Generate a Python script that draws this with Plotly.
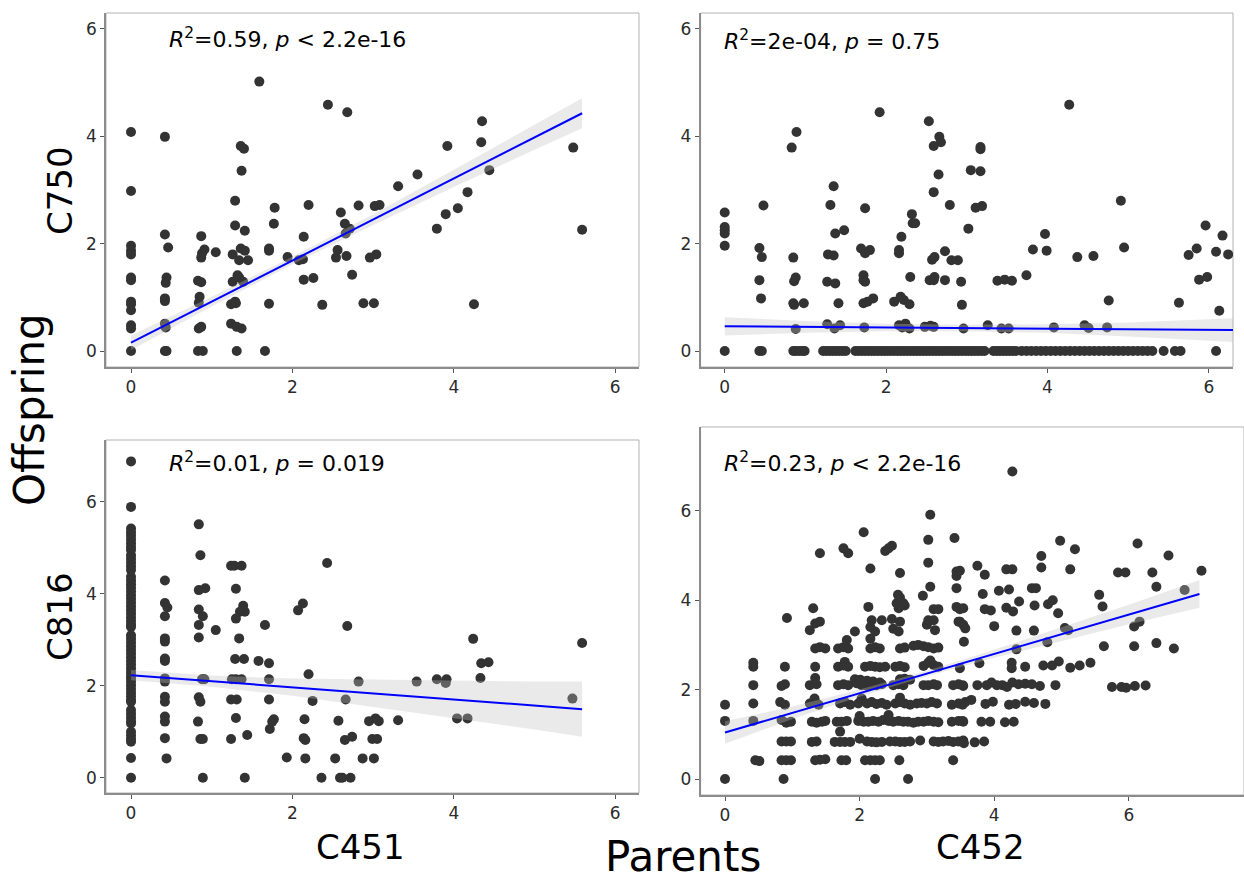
import plotly.graph_objects as go

W, H = 1244, 887

# ---------------- DATA ----------------
# Panel 1: Parents C451 (x) vs Offspring C750 (y)
c451_c750 = [
    (0, 4.08), (0.42, 3.99), (1.59, 5.02), (2.44, 4.59), (2.68, 4.45), (4.35, 4.28), (3.92, 3.82), (4.34, 3.89),
    (5.48, 3.79), (1.36, 3.82), (1.40, 3.77), (1.37, 3.36), (4.44, 3.37), (3.55, 3.29), (3.31, 3.07), (0, 2.98),
    (1.29, 2.80), (4.17, 2.96), (4.05, 2.66), (3.90, 2.55), (3.79, 2.28), (5.59, 2.26), (1.78, 2.67), (2.20, 2.72),
    (2.60, 2.58), (2.82, 2.71), (3.02, 2.70), (3.08, 2.72), (1.77, 2.37), (1.29, 2.34), (1.41, 2.24), (2.65, 2.37),
    (2.66, 2.19), (2.71, 2.28), (2.14, 2.13), (0.42, 2.17), (0.87, 2.14), (0, 1.96), (0, 1.87), (0, 1.80),
    (0.46, 1.93), (0.91, 1.89), (0.88, 1.82), (0.87, 1.74), (1.05, 1.84), (1.26, 1.80), (1.36, 1.91), (1.41, 1.87),
    (1.34, 1.69), (1.45, 1.69), (1.71, 1.91), (1.71, 1.87), (1.94, 1.75), (2.08, 1.69), (2.13, 1.71), (2.56, 1.88),
    (2.54, 1.74), (2.67, 1.77), (2.96, 1.74), (3.04, 1.80), (0, 1.37), (0, 1.32), (0.44, 1.37), (0.43, 1.27),
    (0.83, 1.31), (0.87, 1.28), (1.26, 1.29), (1.32, 1.41), (1.34, 1.37), (1.39, 1.29), (2.14, 1.33), (2.26, 1.36),
    (2.74, 1.42), (0, 0.92), (0, 0.87), (0, 0.76), (0.42, 0.98), (0.42, 0.93), (0.85, 1.01), (0.84, 0.90),
    (1.24, 0.87), (1.29, 0.92), (1.30, 0.89), (1.71, 0.88), (2.37, 0.86), (2.88, 0.89), (3.01, 0.89), (4.25, 0.87),
    (0, 0.48), (0, 0.42), (0.42, 0.51), (0.43, 0.44), (0.84, 0.42), (0.87, 0.45), (1.24, 0.51), (1.31, 0.45),
    (1.37, 0.42), (0, 0), (0.42, 0), (0.44, 0), (0.83, 0), (0.89, 0), (1.31, 0), (1.66, 0),
]
fit1_x = [0, 5.59]
fit1_y = [0.155, 4.43]
band1_x = [0, 1, 2, 3, 4, 5, 5.59]
band1_hi = [0.29, 1.01, 1.755, 2.55, 3.375, 4.21, 4.71]
band1_lo = [0.02, 0.83, 1.615, 2.35, 3.055, 3.75, 4.15]

# Panel 2: Parents C452 (x) vs Offspring C750 (y)
c452_c750 = [
    (0, 2.58), (0, 2.31), (0, 2.25), (0, 2.19), (0, 1.96), (0.48, 2.71), (0.43, 1.92), (0.46, 1.75), (0.43, 1.32),
    (0.45, 0.98), (0.83, 3.79), (0.89, 4.08), (0.85, 1.74), (0.88, 1.37), (0.86, 1.30), (0.85, 0.89), (0.98, 0.89),
    (0.86, 0.86), (0.88, 0.41), (1.35, 3.07), (1.31, 2.72), (1.37, 2.19), (1.48, 2.25), (1.28, 1.80), (1.35, 1.78),
    (1.27, 1.29), (1.37, 1.26), (1.41, 0.89), (1.27, 0.50), (1.36, 0.42), (1.43, 0.48), (1.92, 4.45), (1.74, 2.66),
    (1.69, 1.91), (1.74, 1.82), (1.80, 1.88), (1.72, 1.41), (1.72, 1.32), (1.74, 1.29), (1.72, 0.89), (1.77, 0.92),
    (1.84, 0.98), (1.73, 0.44), (2.19, 2.13), (2.32, 2.55), (2.33, 2.38), (2.36, 2.38), (2.16, 1.82), (2.16, 1.88),
    (2.30, 1.38), (2.10, 0.92), (2.18, 1.01), (2.22, 0.95), (2.29, 0.87), (2.16, 0.48), (2.24, 0.51), (2.29, 0.42),
    (2.20, 0.44), (2.53, 4.28), (2.66, 3.99), (2.68, 3.89), (2.59, 3.82), (2.65, 3.29), (2.59, 2.96), (2.79, 2.72),
    (3.02, 2.28), (2.73, 1.86), (2.57, 1.70), (2.60, 1.75), (2.81, 1.69), (2.89, 1.69), (2.59, 1.32), (2.73, 1.32),
    (2.54, 1.32), (2.60, 1.38), (2.93, 1.29), (2.94, 0.86), (2.48, 0.45), (2.59, 0.45), (2.55, 0.47), (2.96, 0.42),
    (3.05, 3.37), (3.17, 3.80), (3.17, 3.76), (3.17, 3.35), (3.11, 2.67), (3.19, 2.70), (3.26, 0.48), (3.38, 1.31),
    (3.47, 1.33), (3.56, 1.31), (3.43, 0.42), (3.52, 0.42), (3.74, 1.41), (3.82, 1.89), (3.97, 2.18), (3.99, 1.87),
    (4.08, 0.44), (4.27, 4.59), (4.37, 1.75), (4.57, 1.77), (4.46, 0.48), (4.51, 0.43), (4.91, 2.80), (4.95, 1.93),
    (4.76, 0.94), (4.74, 0.44), (5.63, 0.90), (5.75, 1.79), (5.85, 1.91), (5.96, 2.34), (5.88, 1.33), (5.98, 1.38),
    (6.17, 2.15), (6.09, 1.85), (6.24, 1.80), (6.13, 0.75),
]
# Parents C452 values whose offspring C750 value is 0
c452_zero_x = [
    0, 0.43, 0.46, 0.85, 0.88, 0.92, 0.96, 0.99, 1.22, 1.26, 1.30, 1.34, 1.38, 1.42, 1.46, 1.50,
    1.62, 1.66, 1.70, 1.74, 1.78, 1.82, 1.86, 1.90, 1.94, 1.98, 2.02, 2.06, 2.10, 2.14, 2.18, 2.22,
    2.26, 2.30, 2.34, 2.38, 2.42, 2.46, 2.50, 2.54, 2.58, 2.62, 2.66, 2.70, 2.74, 2.78, 2.82, 2.86,
    2.90, 2.94, 2.98, 3.02, 3.06, 3.10, 3.14, 3.18, 3.22, 3.33, 3.37, 3.41, 3.45, 3.49, 3.53, 3.57,
    3.61, 3.68, 3.74, 3.80, 3.86, 3.92, 3.98, 4.04, 4.10, 4.16, 4.22, 4.28, 4.34, 4.40, 4.46, 4.52,
    4.58, 4.64, 4.70, 4.76, 4.82, 4.88, 4.94, 5.00, 5.06, 5.12, 5.18, 5.24, 5.30, 5.44, 5.58, 5.65, 6.09,
]
fit2_x = [0, 6.3]
fit2_y = [0.46, 0.39]
band2_x = [0, 1, 2, 3, 4, 5, 6.3]
band2_hi = [0.63, 0.56, 0.51, 0.49, 0.50, 0.53, 0.61]
band2_lo = [0.29, 0.34, 0.37, 0.37, 0.34, 0.27, 0.17]

# Panel 3: Parents C451 (x) vs Offspring C816 (y)
c816_at_c451_zero = [
    6.88, 5.89, 5.42, 5.34, 5.26, 5.18, 5.10, 5.02, 4.95, 4.84, 4.76, 4.68, 4.60, 4.52, 4.37, 4.29,
    4.21, 4.13, 4.05, 3.97, 3.89, 3.81, 3.73, 3.65, 3.57, 3.49, 3.41, 3.33, 3.28, 3.10, 3.02, 2.94,
    2.86, 2.78, 2.70, 2.62, 2.54, 2.46, 2.38, 2.30, 2.22, 2.16, 2.09, 2.01, 1.93, 1.85, 1.77, 1.69,
    1.65, 1.47, 1.39, 1.31, 1.23, 1.18, 1.00, 0.92, 0.84, 0.78, 0.43, 0,
]
c451_c816 = [
    (0.42, 4.29), (0.42, 3.80), (0.45, 3.70), (0.42, 3.51), (0.42, 3.03), (0.42, 2.96), (0.42, 2.59), (0.42, 2.54),
    (0.42, 2.16), (0.42, 2.09), (0.42, 1.76), (0.42, 1.65), (0.42, 1.33), (0.42, 1.22), (0.42, 0.86), (0.44, 0.42),
    (0.84, 5.51), (0.86, 4.84), (0.84, 4.08), (0.92, 4.12), (0.84, 3.66), (0.89, 3.51), (0.84, 3.32), (0.84, 3.05),
    (0.88, 2.14), (0.91, 2.14), (0.84, 1.75), (0.86, 1.65), (0.83, 1.22), (0.86, 0.84), (0.89, 0.84), (0.89, 0),
    (1.05, 3.21), (1.24, 4.61), (1.28, 4.61), (1.37, 4.61), (1.30, 4.11), (1.39, 3.74), (1.41, 3.61), (1.35, 3.61),
    (1.30, 3.46), (1.34, 3.03), (1.29, 2.58), (1.40, 2.58), (1.25, 2.14), (1.30, 2.14), (1.37, 2.14), (1.24, 1.70),
    (1.31, 1.70), (1.30, 1.30), (1.24, 0.84), (1.44, 0.93), (1.41, 0), (1.58, 2.54), (1.66, 3.32), (1.71, 2.49),
    (1.71, 2.14), (1.71, 1.70), (1.77, 1.27), (1.75, 1.22), (1.72, 1.06), (2.07, 3.64), (2.13, 3.79), (2.20, 2.25),
    (2.25, 1.67), (2.15, 1.27), (2.14, 0.86), (2.16, 0.82), (1.93, 0.44), (2.16, 0.42), (2.36, 0), (2.43, 4.67),
    (2.68, 3.30), (2.82, 2.09), (2.66, 1.70), (2.57, 1.24), (2.65, 0.82), (2.74, 0.89), (2.53, 0.42), (2.59, 0),
    (2.62, 0), (2.72, 0), (2.87, 0.42), (3.01, 0.42), (2.95, 1.23), (3.03, 1.29), (3.07, 1.23), (2.99, 0.84),
    (3.05, 0.84), (3.31, 1.25), (3.54, 2.09), (3.79, 2.14), (3.91, 2.14), (3.90, 2.06), (4.04, 1.29), (4.17, 1.29),
    (4.24, 3.02), (4.33, 2.17), (4.34, 2.49), (4.43, 2.51), (5.47, 1.72), (5.59, 2.93),
]
fit3_x = [0, 5.59]
fit3_y = [2.23, 1.49]
band3_x = [0, 1, 2, 3, 4, 5, 5.59]
band3_hi = [2.34, 2.22, 2.155, 2.13, 2.11, 2.09, 2.09]
band3_lo = [2.12, 1.98, 1.78, 1.53, 1.29, 1.05, 0.89]

# Panel 4: Parents C452 (x) vs Offspring C816 (y)
c452_c816 = [
    (0, 0), (0.87, 0), (2.23, 0), (2.72, 0),
    (0.45, 0.42), (0.51, 0.40), (0.84, 0.42), (0.91, 0.42), (0.98, 0.42), (1.34, 0.42), (1.41, 0.43), (1.49, 0.44),
    (1.73, 0.42), (1.80, 0.42), (2.08, 0.42), (2.16, 0.42), (2.23, 0.42), (2.30, 0.42), (2.59, 0.42), (3.39, 0.42),
    (0.84, 0.84), (0.91, 0.84), (0.98, 0.84), (1.29, 0.83), (1.36, 0.84), (1.63, 0.83), (1.71, 0.83), (1.78, 0.83),
    (1.86, 0.83), (2.00, 0.90), (2.11, 0.84), (2.18, 0.83), (2.25, 0.82), (2.33, 0.83), (2.45, 0.84), (2.53, 0.84),
    (2.60, 0.83), (2.67, 0.83), (2.75, 0.84), (2.90, 0.86), (3.10, 0.84), (3.17, 0.83), (3.24, 0.84), (3.32, 0.85),
    (3.39, 0.83), (3.47, 0.84), (3.54, 0.86), (3.55, 0.80), (3.71, 0.82), (3.85, 0.84), (1.71, 1.06),
    (0, 1.30), (0.42, 1.30), (0.84, 1.32), (0.91, 1.26), (0.98, 1.28), (1.29, 1.28), (1.36, 1.26), (1.44, 1.28),
    (1.49, 1.30), (1.66, 1.28), (1.73, 1.28), (1.81, 1.30), (1.98, 1.30), (2.06, 1.28), (2.13, 1.28), (2.20, 1.30),
    (2.28, 1.28), (2.35, 1.32), (2.43, 1.30), (2.50, 1.28), (2.58, 1.30), (2.65, 1.28), (2.72, 1.28), (2.80, 1.26),
    (2.87, 1.28), (2.95, 1.28), (3.02, 1.30), (3.10, 1.28), (3.17, 1.27), (3.37, 1.28), (3.47, 1.30), (3.54, 1.28),
    (3.53, 1.30), (3.81, 1.28), (3.94, 1.28), (4.16, 1.27), (4.29, 1.28), (2.00, 1.41), (2.43, 1.43),
    (0, 1.66), (0.42, 1.69), (0.82, 1.72), (0.89, 1.66), (1.26, 1.69), (1.34, 1.72), (1.39, 1.66), (1.71, 1.69),
    (1.78, 1.72), (1.86, 1.66), (1.98, 1.69), (2.11, 1.69), (2.18, 1.72), (2.25, 1.68), (2.33, 1.70), (2.40, 1.66),
    (2.53, 1.69), (2.60, 1.72), (2.67, 1.69), (2.75, 1.66), (2.85, 1.69), (2.92, 1.70), (3.00, 1.69), (3.07, 1.72),
    (3.15, 1.69), (3.37, 1.66), (3.47, 1.69), (3.57, 1.72), (3.53, 1.66), (3.66, 1.77), (3.87, 1.68), (3.98, 1.73),
    (4.22, 1.66), (4.32, 1.68), (4.46, 1.73), (4.59, 1.70), (4.76, 1.68), (1.33, 1.80), (2.03, 1.80), (2.60, 1.82),
    (0.42, 2.10), (0.84, 2.08), (0.89, 2.12), (1.26, 2.10), (1.36, 2.12), (1.68, 2.10), (1.76, 2.12), (1.83, 2.10),
    (1.96, 2.14), (2.03, 2.10), (2.11, 2.08), (2.18, 2.10), (2.25, 2.10), (2.33, 2.12), (2.50, 2.10), (2.58, 2.12),
    (2.65, 2.10), (2.95, 2.10), (3.02, 2.10), (3.10, 2.12), (3.15, 2.10), (3.39, 2.10), (3.47, 2.12), (3.54, 2.08),
    (3.53, 2.10), (3.75, 2.10), (3.89, 2.10), (3.96, 2.16), (4.04, 2.10), (4.12, 2.10), (4.19, 2.06), (4.27, 2.16),
    (4.36, 2.12), (4.46, 2.13), (4.56, 2.12), (4.68, 2.08), (4.91, 2.10), (5.75, 2.06), (5.89, 2.06), (5.96, 2.04),
    (6.09, 2.08), (6.25, 2.09),
    (1.34, 2.26), (1.93, 2.23), (2.01, 2.22), (2.11, 2.20), (2.20, 2.18), (2.30, 2.16), (2.60, 2.23), (2.67, 2.24),
    (2.75, 2.22),
    (0.42, 2.51), (0.42, 2.60), (0.89, 2.51), (1.34, 2.51), (1.68, 2.51), (1.76, 2.54), (1.83, 2.51), (2.08, 2.51),
    (2.16, 2.53), (2.23, 2.51), (2.30, 2.50), (2.38, 2.51), (2.53, 2.51), (2.60, 2.53), (2.67, 2.50), (2.95, 2.53),
    (3.02, 2.60), (3.10, 2.55), (3.17, 2.51), (3.49, 2.48), (3.78, 2.59), (4.26, 2.60), (4.26, 2.48), (4.46, 2.51),
    (4.73, 2.54), (4.86, 2.54), (4.96, 2.63), (5.13, 2.49), (5.27, 2.54), (5.43, 2.60), (1.78, 2.62), (3.05, 2.65),
    (1.34, 2.92), (1.41, 2.95), (1.49, 2.92), (1.68, 2.92), (1.76, 2.95), (1.83, 2.92), (2.16, 2.92), (2.23, 2.95),
    (2.30, 2.92), (2.60, 2.92), (2.67, 2.94), (2.80, 2.98), (2.87, 3.00), (2.95, 2.97), (3.02, 2.95), (3.10, 2.92),
    (3.17, 2.94), (3.55, 3.07), (4.33, 2.90), (4.79, 3.06), (5.63, 2.97), (6.08, 2.97), (6.41, 3.04), (6.67, 2.92),
    (1.81, 3.11), (2.16, 3.14),
    (1.26, 3.33), (1.34, 3.48), (1.93, 3.30), (2.16, 3.40), (2.23, 3.30), (2.50, 3.36), (2.58, 3.30), (3.00, 3.45),
    (3.12, 3.33), (3.57, 3.37), (3.54, 3.45), (4.00, 3.42), (4.33, 3.32), (4.59, 3.32), (5.05, 3.38), (5.10, 3.33),
    (6.08, 3.41), (6.16, 3.52),
    (1.41, 3.52), (2.18, 3.55), (2.33, 3.55), (2.48, 3.58), (2.60, 3.52), (3.02, 3.55), (3.10, 3.55), (3.47, 3.52),
    (3.49, 3.52), (0.92, 3.60),
    (1.31, 3.82), (2.13, 3.85), (2.58, 3.82), (2.67, 3.88), (3.10, 3.80), (3.17, 3.80), (3.44, 3.85), (3.49, 3.80),
    (3.54, 3.82), (3.86, 3.80), (3.95, 3.77), (4.18, 3.83), (4.28, 3.75), (4.37, 3.97), (4.60, 3.88), (4.80, 3.91),
    (4.87, 4.00), (4.95, 3.71), (5.61, 3.86), (2.55, 3.93), (2.65, 3.93), (2.60, 4.06),
    (2.57, 4.12), (2.94, 4.10), (3.05, 4.30), (3.44, 4.27), (3.83, 4.14), (4.07, 4.21), (4.22, 4.24), (4.56, 4.27),
    (4.62, 4.27), (5.56, 4.12), (6.41, 4.30), (6.83, 4.23), (3.44, 4.54),
    (2.16, 4.71), (2.60, 4.61), (3.02, 4.84), (3.44, 4.64), (3.49, 4.66), (3.75, 4.77), (3.86, 4.57), (4.18, 4.69),
    (4.27, 4.69), (4.70, 4.73), (5.13, 4.69), (5.84, 4.62), (5.95, 4.62), (6.35, 4.62), (7.08, 4.66),
    (1.41, 5.05), (1.76, 5.16), (1.83, 5.05), (2.38, 5.10), (2.43, 5.16), (2.48, 5.22), (4.70, 4.99), (5.20, 5.14),
    (6.59, 5.00), (2.06, 5.52), (3.02, 5.35), (3.41, 5.39), (4.98, 5.33), (6.13, 5.27), (3.05, 5.91), (4.27, 6.88),
]
fit4_x = [0, 7.05]
fit4_y = [1.04, 4.14]
band4_x = [0, 1, 2, 3, 4, 5, 6, 7.05]
band4_hi = [1.29, 1.62, 2.00, 2.42, 2.89, 3.39, 3.90, 4.45]
band4_lo = [0.79, 1.34, 1.84, 2.30, 2.71, 3.09, 3.46, 3.83]

stat_labels = [
    "<i>R</i><sup>2</sup>=0.59, <i>p</i> &lt; 2.2e-16",
    "<i>R</i><sup>2</sup>=2e-04, <i>p</i> = 0.75",
    "<i>R</i><sup>2</sup>=0.01, <i>p</i> = 0.019",
    "<i>R</i><sup>2</sup>=0.23, <i>p</i> &lt; 2.2e-16",
]
tick_vals = [0, 2, 4, 6]

# ---------------- FIGURE ----------------
FONT = "DejaVu Sans"
PT_COLOR = "#333333"
BAND_FILL = "rgba(190,190,190,0.33)"

p1x, p1y = zip(*c451_c750)
p2x = [p[0] for p in c452_c750] + c452_zero_x
p2y = [p[1] for p in c452_c750] + [0] * len(c452_zero_x)
p3x = [0] * len(c816_at_c451_zero) + [p[0] for p in c451_c816]
p3y = list(c816_at_c451_zero) + [p[1] for p in c451_c816]
p4x, p4y = zip(*c452_c816)

panels = [
    (list(p1x), list(p1y), fit1_x, fit1_y, band1_x, band1_lo, band1_hi, "x", "y"),
    (p2x, p2y, fit2_x, fit2_y, band2_x, band2_lo, band2_hi, "x2", "y2"),
    (p3x, p3y, fit3_x, fit3_y, band3_x, band3_lo, band3_hi, "x3", "y3"),
    (list(p4x), list(p4y), fit4_x, fit4_y, band4_x, band4_lo, band4_hi, "x4", "y4"),
]

fig = go.Figure()
for px, py, fx, fy, bx, blo, bhi, xa, ya in panels:
    fig.add_trace(go.Scatter(x=px, y=py, mode="markers", xaxis=xa, yaxis=ya,
                             marker=dict(size=10, color=PT_COLOR, line=dict(width=0)),
                             showlegend=False, hoverinfo="skip"))
    fig.add_trace(go.Scatter(x=bx + bx[::-1], y=bhi + blo[::-1], mode="lines", fill="toself",
                             fillcolor=BAND_FILL, line=dict(width=0), xaxis=xa, yaxis=ya,
                             showlegend=False, hoverinfo="skip"))
    fig.add_trace(go.Scatter(x=fx, y=fy, mode="lines", line=dict(color="#0000ff", width=2),
                             xaxis=xa, yaxis=ya, showlegend=False, hoverinfo="skip"))


def px_x(v):
    return v / W


def px_y(v):
    return 1 - v / H


axis_common = dict(showgrid=False, zeroline=False, showline=True, linecolor="#8c8c8c", linewidth=1.5,
                   ticks="outside", ticklen=4, tickwidth=1, tickcolor="#555555",
                   tickfont=dict(family=FONT, size=17, color="#2b2b2b"),
                   tickmode="array", tickvals=tick_vals, fixedrange=True)

dom = {
    1: ((106, 639), (13, 367), (-0.31, 6.295), (-0.298, 6.298)),
    2: ((700.6, 1233), (13, 367), (-0.299, 6.30), (-0.298, 6.298)),
    3: ((106, 639), (440, 793), (-0.31, 6.295), (-0.333, 7.345)),
    4: ((700.6, 1244), (427, 795), (-0.363, 7.712), (-0.358, 7.875)),
}
layout_axes = {}
shapes = []
for i, ((xl, xr), (yt, yb), xr_, yr_) in dom.items():
    sx = "" if i == 1 else str(i)
    layout_axes["xaxis" + sx] = dict(axis_common, domain=[px_x(xl), min(1.0, px_x(xr))], range=list(xr_),
                                     anchor="y" + sx)
    layout_axes["yaxis" + sx] = dict(axis_common, domain=[px_y(yb), px_y(yt)], range=list(yr_),
                                     anchor="x" + sx)
    shapes.append(dict(type="rect", xref="x" + sx + " domain", yref="y" + sx + " domain",
                       x0=0, x1=1, y0=0, y1=1, line=dict(color="#b3b3b3", width=1), layer="below"))

annotations = []
stat_pos = [(167, 38), (722, 40), (167, 462), (722, 462)]
for txt, (ax_, ay_) in zip(stat_labels, stat_pos):
    annotations.append(dict(text=txt, x=px_x(ax_), y=px_y(ay_), xref="paper", yref="paper",
                            xanchor="left", yanchor="middle", showarrow=False,
                            font=dict(family=FONT, size=22, color="#000000")))

titles = [
    ("C750", 60, 190, 34, -90),
    ("C816", 60, 616, 34, -90),
    ("Offspring", 29, 410, 42, -90),
    ("C451", 360, 847, 34, 0),
    ("C452", 981, 847, 34, 0),
    ("Parents", 683, 856, 42, 0),
]
for txt, tx, ty, sz, ang in titles:
    annotations.append(dict(text=txt, x=px_x(tx), y=px_y(ty), xref="paper", yref="paper",
                            xanchor="center", yanchor="middle", showarrow=False, textangle=ang,
                            font=dict(family=FONT, size=sz, color="#000000")))

fig.update_layout(width=W, height=H, margin=dict(l=0, r=0, t=0, b=0),
                  paper_bgcolor="white", plot_bgcolor="white",
                  annotations=annotations, shapes=shapes, **layout_axes)

fig.write_html("out.html", config={"displayModeBar": False})
